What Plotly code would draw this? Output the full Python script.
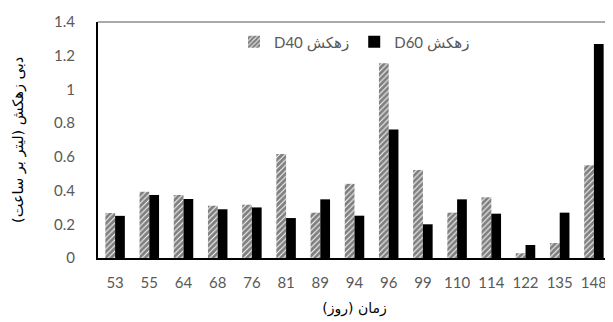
import plotly.graph_objects as go

days = ["53", "55", "64", "68", "76", "81", "89", "94", "96", "99", "110", "114", "122", "135", "148"]
d40 = [0.267, 0.393, 0.374, 0.31, 0.316, 0.617, 0.269, 0.44, 1.155, 0.522, 0.269, 0.36, 0.028, 0.089, 0.55]
d60 = [0.25, 0.374, 0.35, 0.289, 0.30, 0.237, 0.348, 0.251, 0.763, 0.2, 0.348, 0.263, 0.077, 0.269, 1.27]
y_ticks = [0, 0.2, 0.4, 0.6, 0.8, 1, 1.2, 1.4]
y_tick_text = ["0", "0.2", "0.4", "0.6", "0.8", "1", "1.2", "1.4"]

fig = go.Figure()
fig.add_trace(go.Bar(
    x=days, y=d40, name="D40 زهکش",
    marker=dict(color="white", line=dict(width=0),
                pattern=dict(shape="/", fgcolor="black", bgcolor="white", size=4, solidity=0.75)),
))
fig.add_trace(go.Bar(
    x=days, y=d60, name="D60 زهکش",
    marker=dict(color="black", line=dict(width=0)),
))

# page body has an 8px default margin, so the figure is sized to fit the 613x322 window
fig.update_layout(
    width=605, height=314,
    margin=dict(l=90, r=2, t=14, b=64, autoexpand=False),
    paper_bgcolor="white", plot_bgcolor="white",
    barmode="group", bargap=0.43, bargroupgap=0,
    font=dict(family="Lato, DejaVu Sans", size=15, color="#595959"),
    showlegend=True,
    legend=dict(orientation="h", x=0.5, xanchor="center", y=0.985, yanchor="top",
                font=dict(family="Lato, DejaVu Sans", size=15, color="#595959"),
                bgcolor="rgba(0,0,0,0)", traceorder="normal"),
    xaxis=dict(type="category", showline=True, linecolor="black", linewidth=2,
               ticks="", ticklabelstandoff=10, showgrid=False, automargin=False,
               title=dict(text="زمان (روز)", font=dict(family="DejaVu Sans", size=14, color="black"), standoff=13)),
    yaxis=dict(range=[0, 1.4], tickvals=y_ticks, ticktext=y_tick_text, showline=True,
               linecolor="black", linewidth=2, showgrid=False, zeroline=False, automargin=False,
               ticks="", ticklabelstandoff=18),
    annotations=[
        dict(text="دبی زهکش (لیتر بر ساعت)", xref="paper", yref="paper", x=-0.156, y=0.5,
             xanchor="center", yanchor="middle", textangle=-90, showarrow=False,
             font=dict(family="DejaVu Sans", size=14.5, color="black")),
    ],
    shapes=[
        dict(type="line", xref="x domain", yref="y domain", x0=0, x1=1, y0=1, y1=1,
             line=dict(color="#555555", width=1)),
        dict(type="line", xref="x domain", yref="y domain", x0=1, x1=1, y0=0, y1=1,
             line=dict(color="#333333", width=1.5)),
    ],
)

fig.write_html("out.html")
